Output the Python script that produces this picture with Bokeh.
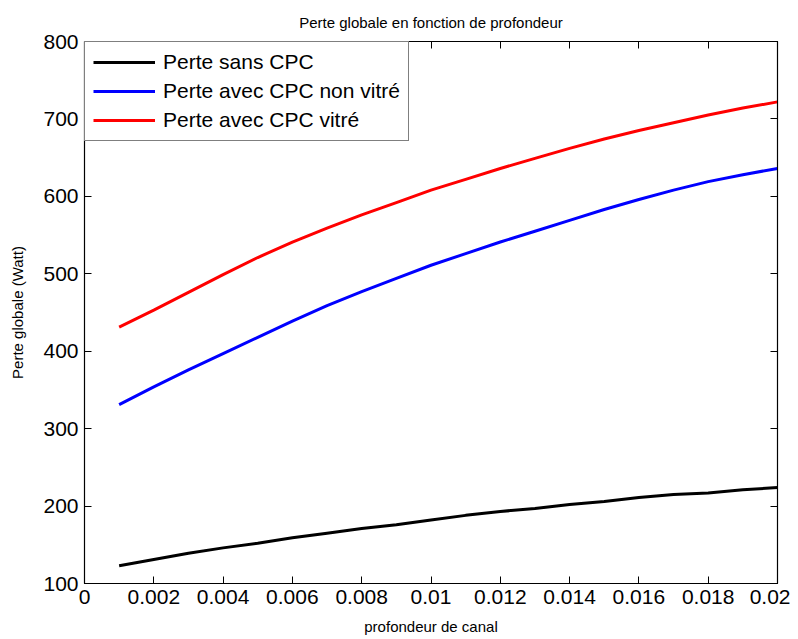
from bokeh.plotting import figure
from bokeh.models import LinearAxis, FixedTicker, Legend, LegendItem, Range1d
from bokeh.embed import file_html
from bokeh.resources import INLINE

# Data
profondeur = [0.001, 0.002, 0.003, 0.004, 0.005, 0.006, 0.007, 0.008, 0.009, 0.010,
              0.011, 0.012, 0.013, 0.014, 0.015, 0.016, 0.017, 0.018, 0.019, 0.020]
perte_sans_cpc = [123, 131, 139, 146, 152, 159, 165, 171, 176, 182,
                  188, 193, 197, 202, 206, 211, 215, 217, 221, 224]
perte_cpc_non_vitre = [331, 354, 376, 397, 418, 439, 459, 477, 494, 511,
                       526, 541, 555, 569, 583, 596, 608, 619, 628, 636]
perte_cpc_vitre = [431, 453, 476, 499, 521, 541, 559, 576, 592, 608,
                   622, 636, 649, 662, 674, 685, 695, 705, 714, 722]

x_ticks = [0, 0.002, 0.004, 0.006, 0.008, 0.01, 0.012, 0.014, 0.016, 0.018, 0.02]
x_tick_labels = ["0", "0.002", "0.004", "0.006", "0.008", "0.01", "0.012",
                 "0.014", "0.016", "0.018", "0.02"]
y_ticks = [100, 200, 300, 400, 500, 600, 700, 800]

series_names = ["Perte sans CPC", "Perte avec CPC non vitré", "Perte avec CPC vitré"]
series_colors = ["#000000", "#0000ff", "#ff0000"]

FONT = "Liberation Sans"

p = figure(width=790, height=637, output_backend="svg", toolbar_location=None,
           x_range=Range1d(0, 0.02), y_range=Range1d(100, 800),
           title="Perte globale en fonction de profondeur",
           min_border_left=84, min_border_right=13, min_border_top=41, min_border_bottom=10)

p.title.align = "center"
p.title.text_font = FONT
p.title.text_font_style = "normal"
p.title.text_font_size = "15px"
p.title.text_color = "#000000"
p.title.standoff = 22

p.xgrid.visible = False
p.ygrid.visible = False
p.outline_line_color = "#000000"
p.outline_line_width = 1.2
p.background_fill_color = "white"
p.border_fill_color = "white"

renderers = []
for ys, c in zip([perte_sans_cpc, perte_cpc_non_vitre, perte_cpc_vitre], series_colors):
    r = p.line(profondeur, ys, line_color=c, line_width=3)
    renderers.append(r)

def style_axis(ax, show_labels=True):
    ax.axis_line_color = "#000000"
    ax.major_tick_line_color = "#000000"
    ax.major_tick_in = 7
    ax.major_tick_out = 0
    ax.minor_tick_line_color = None
    ax.major_label_text_font = FONT
    ax.major_label_text_font_size = "21px"
    ax.major_label_text_color = "#000000"
    ax.axis_label_text_color = "#000000"
    if not show_labels:
        ax.major_label_text_alpha = 0
        ax.major_label_text_font_size = "0px"

xa = p.xaxis[0]
xa.ticker = FixedTicker(ticks=x_ticks)
xa.major_label_overrides = {t: l for t, l in zip(x_ticks, x_tick_labels)}
xa.axis_label = "profondeur de canal"
xa.axis_label_text_font = FONT
xa.axis_label_text_font_style = "normal"
xa.axis_label_text_font_size = "15px"
xa.axis_label_standoff = 11
xa.major_label_standoff = 6
style_axis(xa)

ya = p.yaxis[0]
ya.ticker = FixedTicker(ticks=y_ticks)
ya.axis_label = "Perte globale (Watt)"
ya.axis_label_text_font = FONT
ya.axis_label_text_font_style = "normal"
ya.axis_label_text_font_size = "15px"
ya.axis_label_standoff = 14
ya.major_label_standoff = 6
style_axis(ya)

top = LinearAxis(ticker=FixedTicker(ticks=x_ticks))
style_axis(top, show_labels=False)
p.add_layout(top, "above")
right = LinearAxis(ticker=FixedTicker(ticks=y_ticks))
style_axis(right, show_labels=False)
p.add_layout(right, "right")

legend = Legend(items=[LegendItem(label=n, renderers=[r]) for n, r in zip(series_names, renderers)],
                location="top_left")
legend.margin = 0
legend.padding = 8
legend.spacing = 5
legend.label_height = 24
legend.glyph_height = 24
legend.glyph_width = 62
legend.label_standoff = 8
legend.label_text_font = FONT
legend.label_text_font_size = "21px"
legend.label_text_color = "#000000"
legend.border_line_color = "#000000"
legend.border_line_width = 1.2
legend.background_fill_color = "white"
legend.background_fill_alpha = 1
p.add_layout(legend, "center")

open("out.html", "w").write(file_html(p, INLINE))
